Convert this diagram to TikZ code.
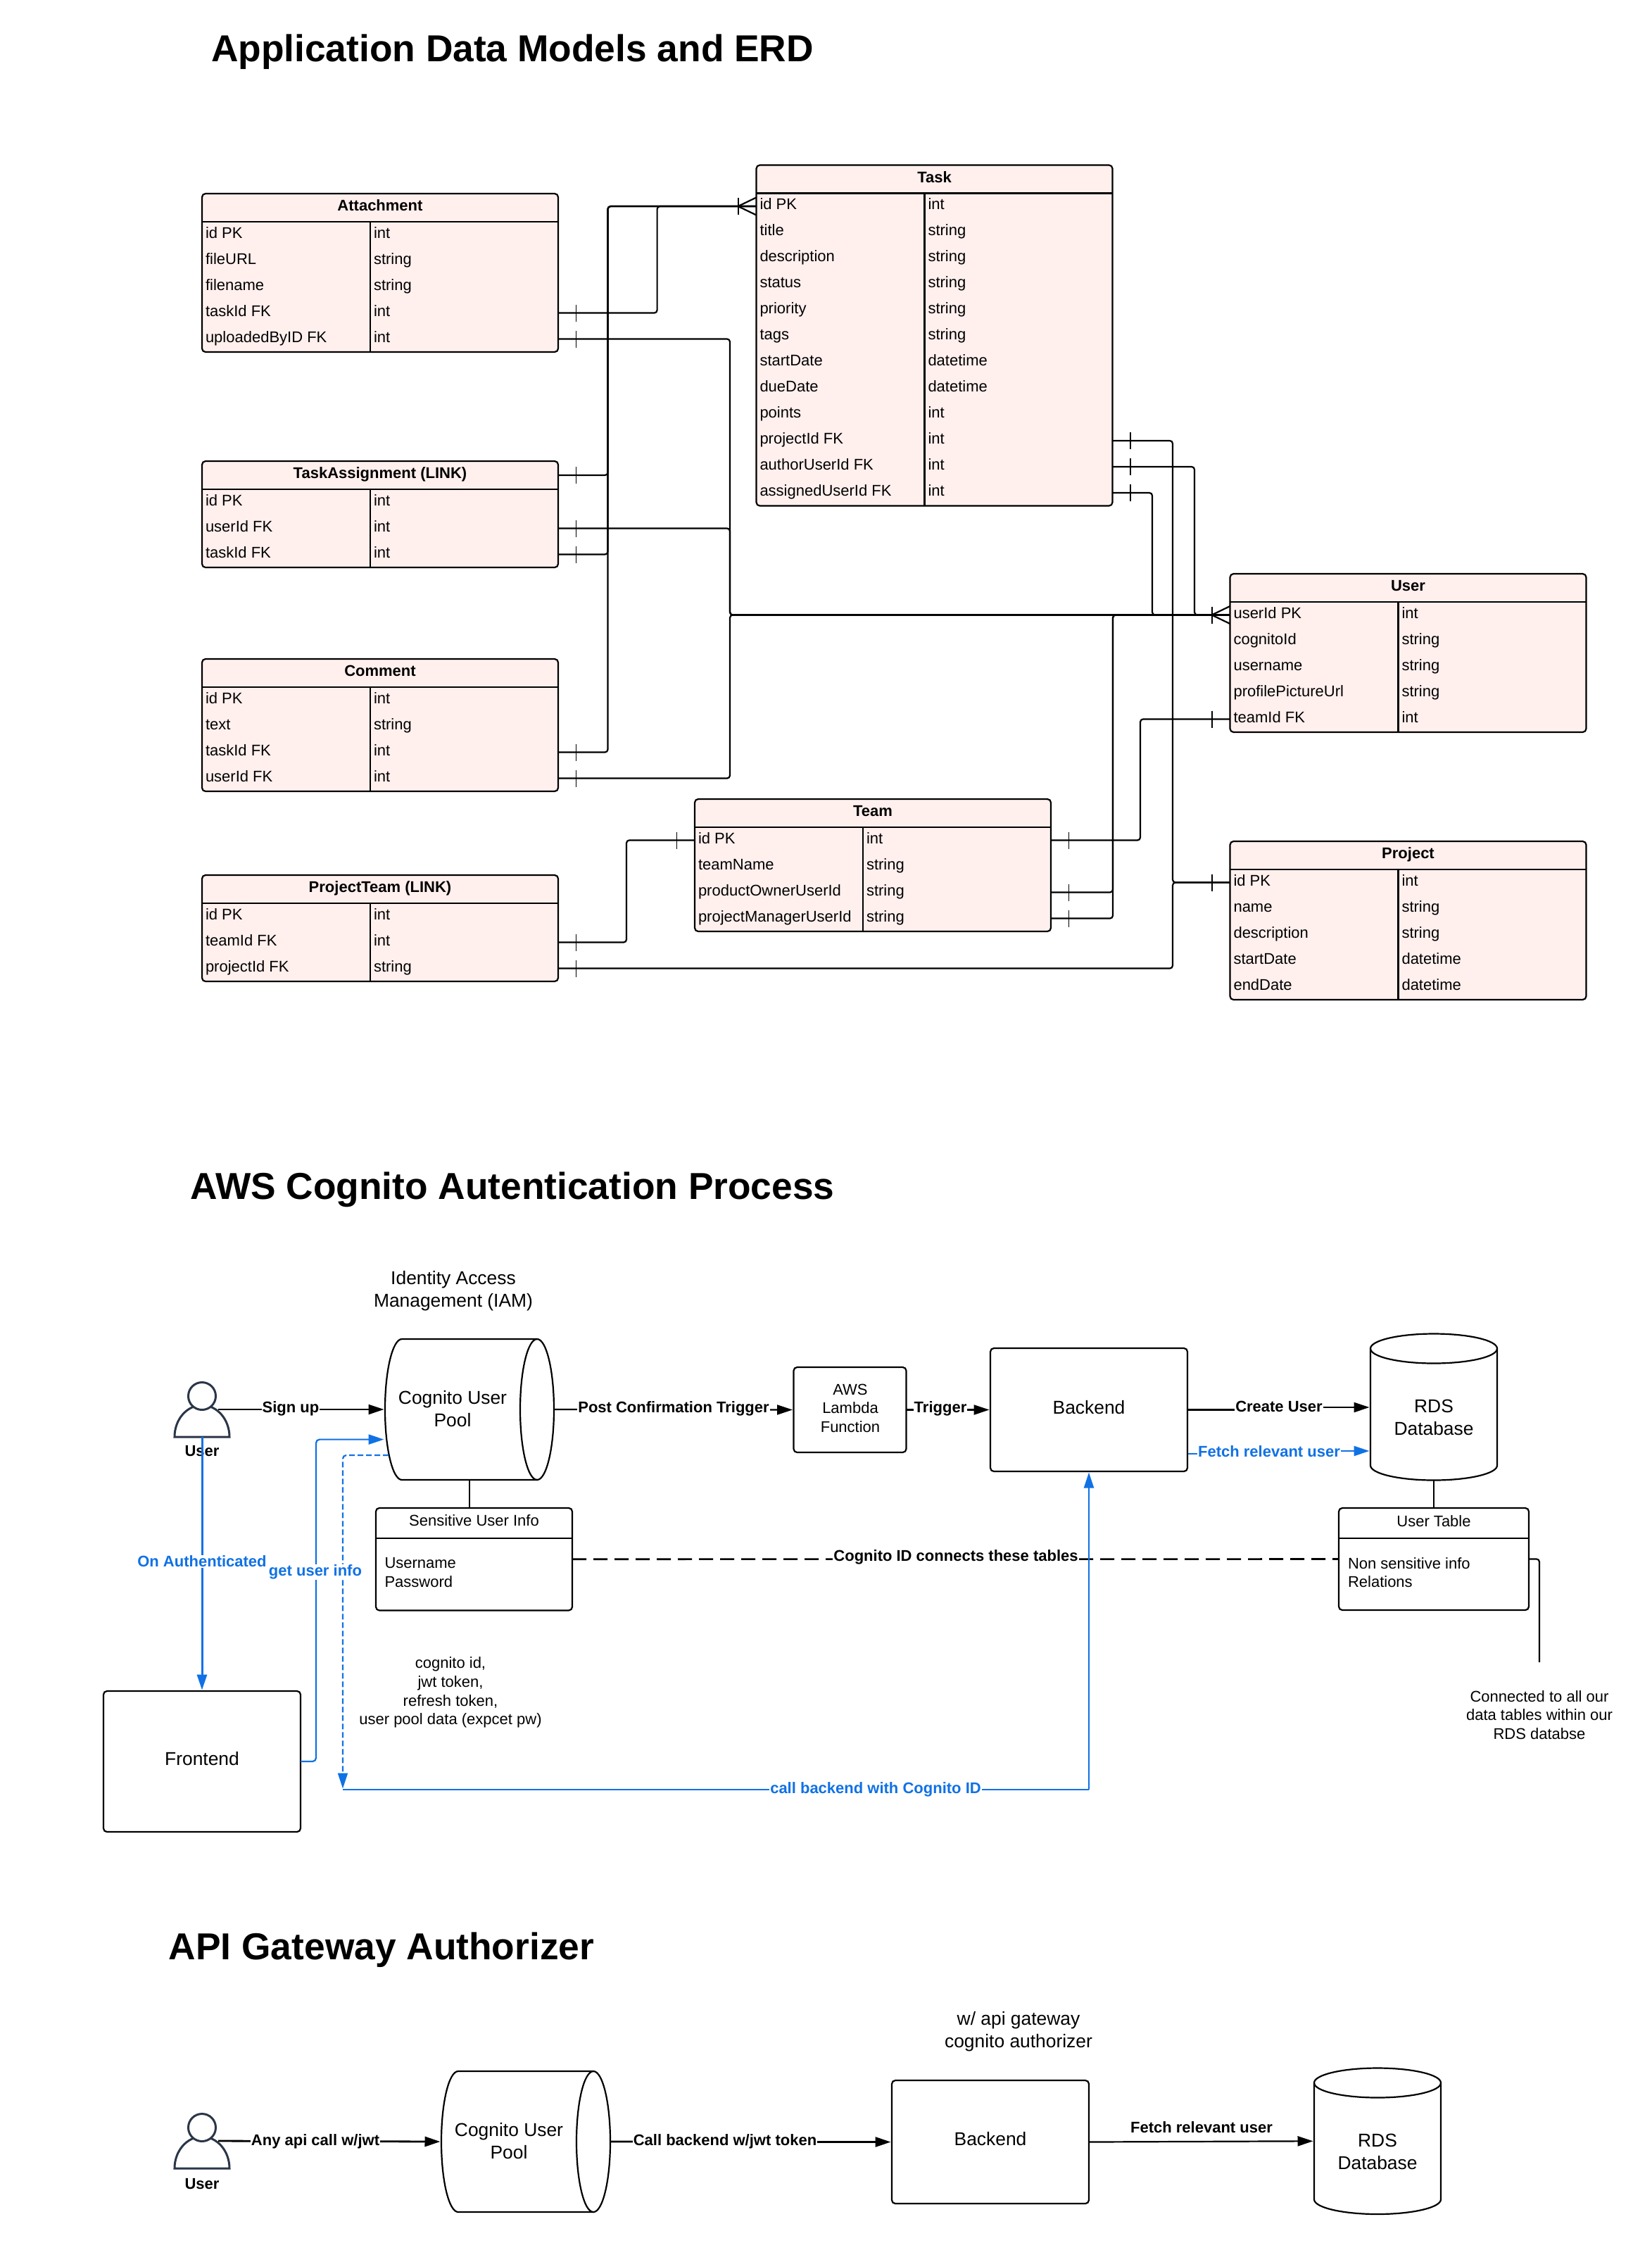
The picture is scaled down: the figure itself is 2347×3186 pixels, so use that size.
\documentclass[tikz,border=0pt]{standalone}
\usepackage{fontspec}
\setmainfont{Liberation Sans}
\usetikzlibrary{arrows.meta}
\definecolor{tablefill}{HTML}{FFF0EE}
\definecolor{lucidblue}{HTML}{1071E5}
\definecolor{personcol}{HTML}{2B3648}
\newcommand\szA{\fontsize{22}{26.6}\selectfont}
\newcommand\szB{\fontsize{26.4}{32}\selectfont}
\newcommand\szT{\fontsize{53.3}{60}\selectfont\bfseries}
\tikzset{
  x=1pt,y=-1pt,
  every node/.style={inner sep=0pt,outer sep=0pt},
  line/.style={draw=black,line width=2.2pt},
  conn/.style={line,rounded corners=4pt},
  tablebox/.style={line,fill=tablefill,rounded corners=5pt,minimum width=506pt},
  cell/.style={font=\szA},
  celltitle/.style={font=\szA\bfseries},
  tickmark/.style={draw=black,line width=1.6pt},
  arr/.style={line,-{Triangle[length=22pt,width=14pt]},shorten >=1.5pt},
  barr/.style={arr,draw=lucidblue},
  lbl/.style={font=\szA\bfseries,fill=white,inner xsep=1pt,inner ysep=1pt},
  blbl/.style={lbl,text=lucidblue},
  box/.style={line,rounded corners=5pt},
  big/.style={font=\szB,align=center},
  small/.style={font=\szA,align=center},
  title/.style={font=\szT,anchor=center},
  personline/.style={draw=personcol,line width=3pt,fill=white},
}
% id, x, top, number of rows, title, rows
\newcommand\erd[6]{%
  \node[tablebox,anchor=north west,minimum height={(40+37*#4)*1pt}] (#1) at (#2,#3) {};
  \draw[line] (#2,#3+40) -- (#2+506,#3+40);
  \draw[line] (#2+239,#3+40) -- (#2+239,#3+40+37*#4);
  \node[celltitle,anchor=base] (#1-t) at (#2+253,#3+24.5) {#5};
  \coordinate (#1-he) at (#2+506,#3+20);
  \foreach \rowl/\rowv [count=\ri from 0] in {#6} {
    \pgfmathsetmacro\rowy{#3+58.5+37*\ri}
    \coordinate (#1-w\ri) at (#2,\rowy);
    \coordinate (#1-e\ri) at (#2+506,\rowy);
    \node[cell,anchor=base west] (#1-l\ri) at (#2+5,\rowy+4.8) {\rowl};
    \node[cell,anchor=base west] (#1-v\ri) at (#2+244,\rowy+4.8) {\rowv};
  }
}
% horizontal cylinder: id, cx, cy, text x
\newcommand\hcyl[4]{%
  \node[minimum width=240pt,minimum height=200pt] (#1) at (#2,#3) {};
  \draw[line] (#2-96,#3-100) arc[start angle=90,end angle=270,x radius=24pt,y radius=100pt]
     -- (#2+96,#3+100) arc[start angle=-90,end angle=90,x radius=24pt,y radius=100pt] -- cycle;
  \draw[line] (#2+96,#3-100) arc[start angle=90,end angle=270,x radius=24pt,y radius=100pt];
  \node[big] (#1-txt) at (#4,#3-1) {Cognito User\\Pool};
}
% vertical cylinder: id, cx, top, bottom
\newcommand\vcyl[4]{%
  \node[minimum width=180pt,minimum height={(#4-#3)*1pt}] (#1) at (#2,#3/2+#4/2) {};
  \draw[line] (#2-90,#3+21) -- (#2-90,#4-21) arc[start angle=180,end angle=360,x radius=90pt,y radius=21pt]
     -- (#2+90,#3+21) arc[start angle=0,end angle=180,x radius=90pt,y radius=21pt] -- cycle;
  \draw[line] (#2-90,#3+21) arc[start angle=180,end angle=360,x radius=90pt,y radius=21pt];
  \node[big] (#1-txt) at (#2,#3/2+#4/2+15) {RDS\\Database};
}
% person: id, cx, bottom, label y
\newcommand\person[4]{%
  \node[minimum width=46pt,minimum height=78pt] (#1) at (#2,#3-39) {};
  \draw[personline] (#2-39,#3) arc[start angle=180,end angle=0,x radius=39pt,y radius=45pt] -- cycle;
  \draw[personline] (#2,#3-58) ellipse[x radius=19.5pt,y radius=19.5pt];
  \node[font=\szA\bfseries,anchor=center] (#1-lbl) at (#2,#4) {User};
}
\begin{document}
\begin{tikzpicture}
\useasboundingbox (0,0) rectangle (2347,3186);
\fill[white] (0,0) rectangle (2347,3186);

% ---------- titles
\node[title] (title1) at (728,74) {Application Data Models and ERD};
\node[title] (title2) at (728,1690) {AWS Cognito Autentication Process};
\node[title] (title3) at (542,2770) {API Gateway Authorizer};

% ---------- ERD tables
\erd{att}{287}{275}{5}{Attachment}{id PK/int,fileURL/string,filename/string,taskId FK/int,uploadedByID FK/int}
\erd{ta}{287}{655}{3}{TaskAssignment (LINK)}{id PK/int,userId FK/int,taskId FK/int}
\erd{com}{287}{936}{4}{Comment}{id PK/int,text/string,taskId FK/int,userId FK/int}
\erd{pt}{287}{1243}{3}{ProjectTeam (LINK)}{id PK/int,teamId FK/int,projectId FK/string}
\erd{team}{987}{1135}{4}{Team}{id PK/int,teamName/string,productOwnerUserId/string,projectManagerUserId/string}
\erd{task}{1074.5}{234.5}{12}{Task}{id PK/int,title/string,description/string,status/string,priority/string,tags/string,startDate/datetime,dueDate/datetime,points/int,projectId FK/int,authorUserId FK/int,assignedUserId FK/int}
\erd{user}{1747.5}{815}{5}{User}{userId PK/int,cognitoId/string,username/string,profilePictureUrl/string,teamId FK/int}
\erd{proj}{1747.5}{1195}{5}{Project}{id PK/int,name/string,description/string,startDate/datetime,endDate/datetime}

% ---------- ERD connectors
\draw[conn] (att-e3) -- ++(140.6,0) |- (task-w0);
\draw[conn] (ta-he) -- ++(70.5,0) |- (task-w0);
\draw[conn] (ta-e2) -- ++(70.5,0) |- (task-w0);
\draw[conn] (com-e2) -- ++(70.5,0) |- (task-w0);
\draw[conn] (att-e4) -- ++(244,0) |- (user-w0);
\draw[conn] (ta-e1) -- ++(244,0) |- (user-w0);
\draw[conn] (com-e3) -- ++(244,0) |- (user-w0);
\draw[conn] (task-e9) -- ++(85.5,0) |- (proj-w0);
\draw[conn] (task-e10) -- ++(116.5,0) |- (user-w0);
\draw[conn] (task-e11) -- ++(56.5,0) |- (user-w0);
\draw[conn] (team-e0) -- ++(127,0) |- (user-w4);
\draw[conn] (team-e2) -- ++(88,0) |- (user-w0);
\draw[conn] (team-e3) -- ++(88,0) |- (user-w0);
\draw[conn] (pt-e1) -- ++(97,0) |- (team-w0);
\draw[conn] (pt-e2) -- ++(873,0) |- (proj-w0);
\foreach \c in {att-e3,att-e4,ta-he,ta-e1,ta-e2,com-e2,com-e3,pt-e1,pt-e2,task-e9,task-e10,task-e11,team-e0,team-e2,team-e3}
  \draw[tickmark] (\c) ++(25.5,-12) -- ++(0,24);
\foreach \c in {team-w0,user-w4,proj-w0,task-w0,user-w0}
  \draw[tickmark] (\c) ++(-25.5,-12) -- ++(0,24);
\foreach \c in {task-w0,user-w0}
  \draw[tickmark,line width=2.2pt] (\c) ++(-26,0) -- ++(26,-12.5) ++(-26,12.5) -- ++(26,12.5);

% ---------- Cognito process: shapes
\person{u1}{287}{2041}{2061}
\hcyl{pool}{667}{2002}{643}
\node[big] (iam) at (644,1834) {Identity Access\\Management (IAM)};
\node[box,minimum width=279pt,minimum height=145.5pt] (sens) at (673.5,2214.7) {};
\draw[line] (sens.west |- 0,2185) -- (sens.east |- 0,2185);
\node[small] (senst) at (673.5,2160) {Sensitive User Info};
\node[small,align=left,anchor=west] (sensb) at (546.5,2233.5) {Username\\Password};
\node[box,minimum width=280pt,minimum height=200pt] (front) at (287,2502) {};
\node[big] (frontt) at (287,2498) {Frontend};
\node[small] (tokens) at (640,2404) {cognito id,\\jwt token,\\refresh token,\\user pool data (expcet pw)};
\node[box,minimum width=160pt,minimum height=121pt] (lambda) at (1207.5,2002.5) {};
\node[small] (lambdat) at (1208,2000) {AWS\\Lambda\\Function};
\node[box,minimum width=280pt,minimum height=175pt] (back) at (1547,2002.5) {};
\node[big] (backt) at (1547,1999) {Backend};
\vcyl{rds}{2037}{1894.5}{2102.5}
\node[box,minimum width=270pt,minimum height=145pt] (ut) at (2037,2214.5) {};
\draw[line] (ut.west |- 0,2185) -- (ut.east |- 0,2185);
\node[small] (utt) at (2037,2160.5) {User Table};
\node[small,align=left,anchor=west] (utb) at (1915,2233.5) {Non sensitive info\\Relations};
\node[small] (allt) at (2187,2436) {Connected to all our\\data tables within our\\RDS databse};
\coordinate (allend) at (2187,2361);
\coordinate (poolin) at (547,2044.6);
\coordinate (poolout) at (552,2067);
\coordinate (tokdown) at (487,2067);
\coordinate (tokend) at (487,2542);
\coordinate (crjog) at (1817,1999);
\coordinate (fstart) at (1688,2065);
\coordinate (fjog) at (1803,2061);
\coordinate (fend) at (1947,2061);

% ---------- Cognito process: connectors
\draw[arr] (u1.east) -- (pool.west);
\draw[arr] (pool.east) -- (lambda.west);
\draw[arr] (lambda.east) -- (back.west);
\draw[line,line width=2.8pt] (back.east) -- (crjog |- back.east);
\draw[arr] (crjog) -- (rds.west |- crjog);
\draw[line,draw=lucidblue] (fstart) -- (fjog |- fstart);
\draw[barr] (fjog) -- (fend);
\draw[line,line width=2.6pt,dash pattern=on 20pt off 10pt] (sens.east) -- (ut.west);
\draw[line] (pool.south) -- (pool.south |- sens.north);
\draw[line] (rds.south) -- (ut.north);
\draw[conn] (ut.east) -- ++(15,0) |- (allend);
\draw[barr,line width=3pt] (u1.south) -- (front.north);
\draw[barr,rounded corners=5pt] (front.east) -| (449,2044.6) -- (poolin);
\draw[barr,dash pattern=on 8pt off 4pt,rounded corners=5pt] (poolout) -- (tokdown) -- (tokend);
\draw[line,draw=lucidblue,rounded corners=2pt] (tokend) -- (back.south |- tokend);
\draw[barr] (back.south |- tokend) -- (back.south);

\node[lbl] (lsign) at (413,2001) {Sign up};
\node[lbl] (lpost) at (957,2001) {Post Confirmation Trigger};
\node[lbl] (ltrig) at (1336,2001) {Trigger};
\node[lbl] (lcreate) at (1817,1998) {Create User};
\node[blbl] (lfetch) at (1803,2062) {Fetch relevant user};
\node[lbl] (lcog) at (1358,2212) {Cognito ID connects these tables};
\node[blbl] (lon) at (287,2218) {On Authenticated};
\node[blbl] (lget) at (448,2233) {get user info};
\node[blbl] (lcall) at (1244,2542) {call backend with Cognito ID};

% ---------- API gateway section
\person{u2}{287}{3080}{3102}
\hcyl{pool2}{747}{3042}{723}
\node[box,minimum width=280pt,minimum height=175pt] (back2) at (1407,3042.5) {};
\node[big] (back2t) at (1407,3038) {Backend};
\node[big] (gw) at (1447,2886) {w/ api gateway\\cognito authorizer};
\vcyl{rds2}{1957}{2937.5}{3145}
\draw[arr,line width=2.8pt] (u2.east) -- (pool2.west);
\draw[arr,line width=2.8pt] (pool2.east) -- (back2.west);
\draw[arr] (back2.east) -- (rds2.west);
\node[lbl] (lany) at (448,3042) {Any api call w/jwt};
\node[lbl] (lback) at (1030,3042) {Call backend w/jwt token};
\node[font=\szA\bfseries] (lfetch2) at (1707,3022) {Fetch relevant user};
\end{tikzpicture}
\end{document}
